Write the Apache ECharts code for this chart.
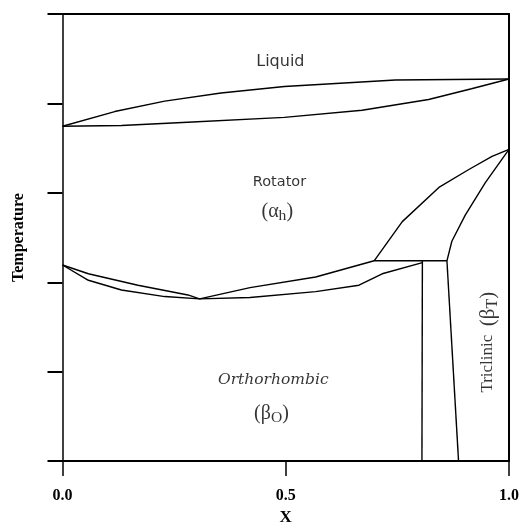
<!DOCTYPE html>
<html>
<head>
<meta charset="utf-8">
<script src="https://cdn.jsdelivr.net/npm/echarts@6/dist/echarts.min.js"></script>
<style>html,body{margin:0;padding:0;background:#fff}#c{width:522px;height:531px}</style>
</head>
<body>
<div id="c"></div>
<script>
// Phase boundaries (x = composition, y = temperature in axis units 0..5)
var liquidus = [[0,3.745],[0.117,3.909],[0.229,4.026],[0.355,4.117],[0.497,4.19],[0.746,4.262],[1,4.273]];
var solidus = [[0,3.745],[0.132,3.753],[0.28,3.789],[0.497,3.844],[0.671,3.924],[0.82,4.044],[0.916,4.164],[1,4.273]];
var rotatorUpper = [[0,2.193],[0.058,2.095],[0.169,1.967],[0.281,1.858],[0.307,1.814],[0.42,1.94],[0.567,2.059],[0.698,2.24]];
var rotatorLower = [[0,2.193],[0.058,2.022],[0.132,1.913],[0.229,1.84],[0.307,1.814],[0.42,1.83],[0.567,1.895],[0.664,1.967],[0.716,2.095],[0.806,2.22]];
var peritecticLine = [[0.698,2.24],[0.861,2.24]];
var orthoBoundary = [[0.806,2.24],[0.805,0]];
var tricBoundary = [[0.861,2.24],[0.887,0]];
var rotTricLeft = [[0.698,2.24],[0.761,2.678],[0.843,3.06],[0.91,3.261],[0.962,3.407],[1,3.486]];
var rotTricRight = [[0.861,2.24],[0.872,2.459],[0.902,2.751],[0.947,3.115],[1,3.486]];
var xTicks = [0, 0.5, 1.0];
var yTicks = [0, 1, 2, 3, 4, 5];
var regionLabels = [
  {pos:[0.488,4.47], text:'Liquid', style:'liq'},
  {pos:[0.486,3.12], text:'Rotator', style:'rot'},
  {pos:[0.481,2.79], text:'(α{sub|h})', style:'g'},
  {pos:[0.472,0.905], text:'Orthorhombic', style:'i'},
  {pos:[0.468,0.53], text:'(β{sub|O})', style:'g'},
  {pos:[0.953,1.33], text:'Triclinic  {g|(β}{sub|T}{g|)}', style:'t'}
];

var lines = [liquidus, solidus, rotatorUpper, rotatorLower, peritecticLine, orthoBoundary, tricBoundary, rotTricLeft, rotTricRight];
var series = lines.map(function(d){
  return {type:'line', data:d, symbol:'none', smooth:false, silent:true,
    lineStyle:{color:'#000', width:1.4}, z:3};
});
var styles = {
  liq:{fontFamily:'DejaVu Sans', fontSize:16},
  rot:{fontFamily:'DejaVu Sans', fontSize:14.5},
  i:{fontFamily:'DejaVu Serif', fontStyle:'italic', fontSize:15.5},
  g:{fontFamily:'Liberation Serif', fontSize:20},
  t:{fontFamily:'Liberation Serif', fontSize:17}
};
regionLabels.forEach(function(l){
  var st = styles[l.style];
  var subSize = l.style==='t' ? 16 : st.fontSize*0.78;
  series.push({type:'scatter', symbolSize:0, silent:true, z:5,
    data:[{value:l.pos}],
    label:{show:true, position:'inside', formatter:l.text, rotate: l.style==='t'?90:0,
      fontFamily:st.fontFamily, fontStyle:st.fontStyle||'normal', fontSize:st.fontSize, color:'#000',
      rich:{
        sub:{fontFamily:'Liberation Serif', fontSize:subSize, verticalAlign:'bottom', padding:[subSize*0.55,0,0,0], color:'#000'},
        g:{fontFamily:'Liberation Serif', fontSize:21, color:'#000'}
      }}
  });
});

var chart = echarts.init(document.getElementById('c'), null, {renderer:'canvas'});
chart.setOption({
  animation:false,
  backgroundColor:'#fff',
  grid:{left:62.5, right:11.5, top:14, bottom:59.3},
  xAxis:[{
    type:'value', min:0, max:1, interval:0.5,
    axisLine:{show:true, onZero:false, lineStyle:{color:'#000', width:2}},
    axisTick:{show:true, inside:false, length:15, lineStyle:{color:'#000', width:1.5}},
    axisLabel:{margin:27, fontFamily:'Liberation Serif', fontWeight:'bold', fontSize:16, color:'#000',
      formatter:function(v){return v.toFixed(1);}},
    splitLine:{show:false},
    name:'X', nameLocation:'middle', nameGap:44,
    nameTextStyle:{fontFamily:'Liberation Serif', fontWeight:'bold', fontSize:17, color:'#000', verticalAlign:'top'}
  },{
    type:'value', position:'top', min:0, max:1,
    axisLine:{show:true, onZero:false, lineStyle:{color:'#000', width:2}},
    axisTick:{show:false}, axisLabel:{show:false}, splitLine:{show:false}
  }],
  yAxis:[{
    type:'value', min:0, max:5, interval:1,
    axisLine:{show:true, onZero:false, lineStyle:{color:'#000', width:1.5}},
    axisTick:{show:true, inside:false, length:15, lineStyle:{color:'#000', width:2}},
    axisLabel:{show:false}, splitLine:{show:false},
    name:'Temperature', nameLocation:'middle', nameGap:36, nameRotate:90,
    nameTextStyle:{fontFamily:'Liberation Serif', fontWeight:'bold', fontSize:16, color:'#000'}
  },{
    type:'value', position:'right', min:0, max:5,
    axisLine:{show:true, onZero:false, lineStyle:{color:'#000', width:2}},
    axisTick:{show:false}, axisLabel:{show:false}, splitLine:{show:false}
  }],
  series:series
});
</script>
</body>
</html>
